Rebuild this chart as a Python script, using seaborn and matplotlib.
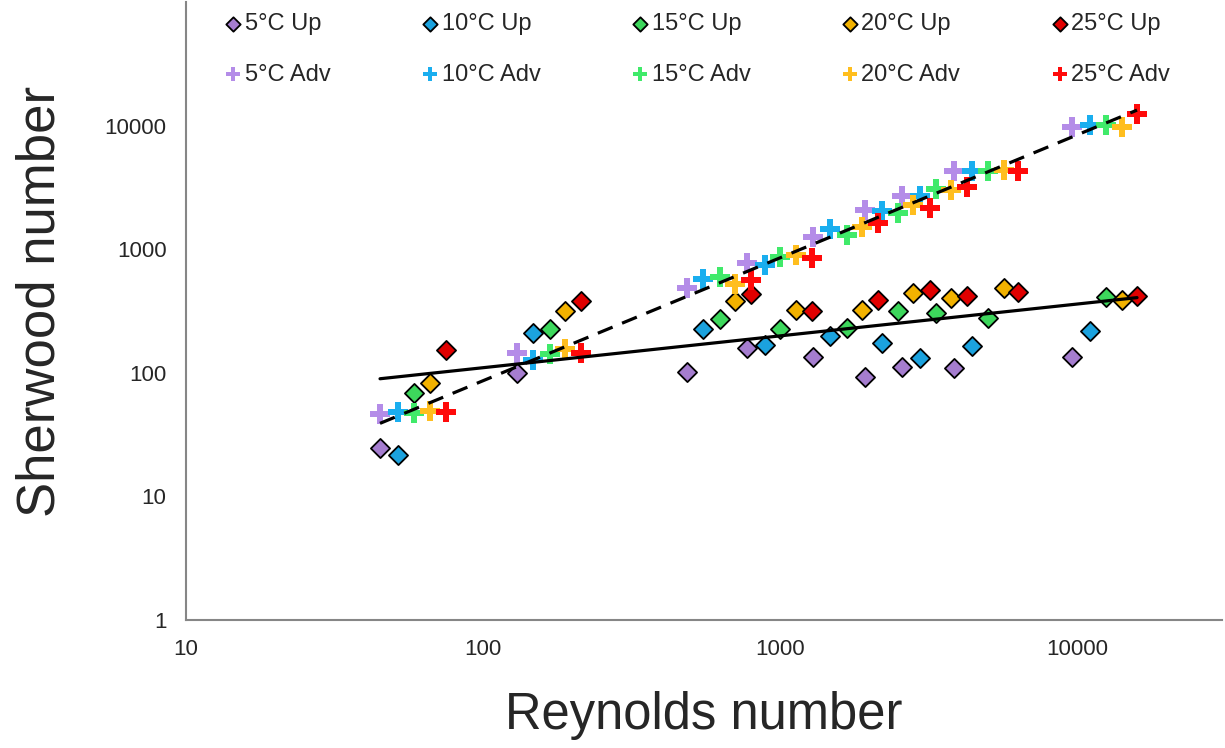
import numpy as np
import pandas as pd
import matplotlib
matplotlib.use('Agg')
import matplotlib.pyplot as plt
import seaborn as sns

# temperatures
temps = ['5°C', '10°C', '15°C', '20°C', '25°C']

# Reynolds numbers (same for Up and Adv at each temperature)
re_5 = [45, 130, 486, 774, 1291, 1933, 2575, 3854, 9621]
re_10 = [51.7, 147, 550, 890, 1474, 2205, 2960, 4431, 11060]
re_15 = [58.6, 168, 628, 1000, 1681, 2497, 3352, 5015, 12520]
re_20 = [66.3, 189, 706, 1132, 1888, 2805, 3765, 5679, 14170]
re_25 = [75.1, 214, 799, 1282, 2138, 3200, 4262, 6328, 15920]

# Sherwood numbers - uptake
sh_up_5 = [24.8, 100, 102, 159, 135, 93, 112, 110, 135]
sh_up_10 = [21.8, 210, 226, 168, 199, 175, 132, 165, 218]
sh_up_15 = [69, 226, 272, 226, 231, 316, 305, 278, 410]
sh_up_20 = [83, 316, 381, 322, 322, 442, 403, 485, 388]
sh_up_25 = [153, 381, 434, 316, 388, 467, 418, 450, 418]

# Sherwood numbers - advection
sh_adv_5 = [46, 145, 488, 776, 1250, 2090, 2675, 4313, 9723]
sh_adv_10 = [48.5, 127, 573, 747, 1459, 2050, 2675, 4257, 10140]
sh_adv_15 = [47.6, 142, 600, 870, 1314, 1963, 3090, 4313, 10140]
sh_adv_20 = [49.4, 156, 519, 900, 1504, 2293, 3030, 4395, 9817]
sh_adv_25 = [48.5, 145, 559, 854, 1630, 2153, 3162, 4313, 12340]

re_all = [re_5, re_10, re_15, re_20, re_25]
sh_up = [sh_up_5, sh_up_10, sh_up_15, sh_up_20, sh_up_25]
sh_adv = [sh_adv_5, sh_adv_10, sh_adv_15, sh_adv_20, sh_adv_25]

up_colors = ['#A57DCF', '#1BA2DE', '#3DD75C', '#F2B200', '#E00000']
adv_colors = ['#B48CE8', '#1AAEEF', '#40EA6A', '#FFBE1E', '#FF0A0A']

sns.set_style('white')
plt.rcParams['font.family'] = ['Liberation Sans', 'DejaVu Sans']

fig = plt.figure(figsize=(12.25, 7.48), dpi=100)
ax = fig.add_axes([186/1225, 1 - 620/748, 1036/1225, 618/748])

handles = []
labels = []
for i, t in enumerate(temps):
    sns.scatterplot(x=re_all[i], y=sh_up[i], marker='D', s=95, color=up_colors[i],
                    edgecolor='black', linewidth=1.3, ax=ax, zorder=3)
    h_up = ax.collections[-1]
    sns.scatterplot(x=re_all[i], y=sh_adv[i], marker='P', s=200, color=adv_colors[i],
                    linewidth=0, ax=ax, zorder=3)
    h_adv = ax.collections[-1]
    handles += [h_up, h_adv]
    labels += [t + ' Up', t + ' Adv']

# power-law trendlines (fit in log-log space)
re_flat = np.concatenate(re_all)
for sh, style in [(sh_up, '-'), (sh_adv, (0, (5, 3.2)))]:
    sh_flat = np.concatenate(sh)
    b, a = np.polyfit(np.log10(re_flat), np.log10(sh_flat), 1)
    xs = np.array([re_flat.min(), re_flat.max()])
    ax.plot(xs, 10**a * xs**b, color='black', lw=2.3, ls=style, zorder=4)

ax.set_xscale('log')
ax.set_yscale('log')
ax.set_xlim(10, 30760)
ax.set_ylim(1, 100000)
ax.set_xticks([10, 100, 1000, 10000])
ax.set_xticklabels(['10', '100', '1000', '10000'])
ax.set_yticks([1, 10, 100, 1000, 10000])
ax.set_yticklabels(['1', '10', '100', '1000', '10000'])
ax.minorticks_off()
ax.tick_params(axis='both', labelsize=16, colors='#262626', length=6, width=1.2,
               direction='out', pad=8)
ax.tick_params(axis='both', color='#868686')
for s in ['top', 'right']:
    ax.spines[s].set_visible(False)
for s in ['left', 'bottom']:
    ax.spines[s].set_color('#868686')
    ax.spines[s].set_linewidth(1.5)

ax.set_xlabel('Reynolds number', fontsize=36.5, labelpad=22)
ax.set_ylabel('Sherwood number', fontsize=38)
ax.yaxis.set_label_coords(-0.116, 0.515)

ax.legend(handles, labels, ncol=5, loc='upper left', bbox_to_anchor=(0.016, 1.016),
          frameon=False, fontsize=17, markerscale=0.75, handletextpad=0.1,
          handlelength=0.8, columnspacing=3.8, labelspacing=1.2)

fig.savefig('out.png', dpi=100)
